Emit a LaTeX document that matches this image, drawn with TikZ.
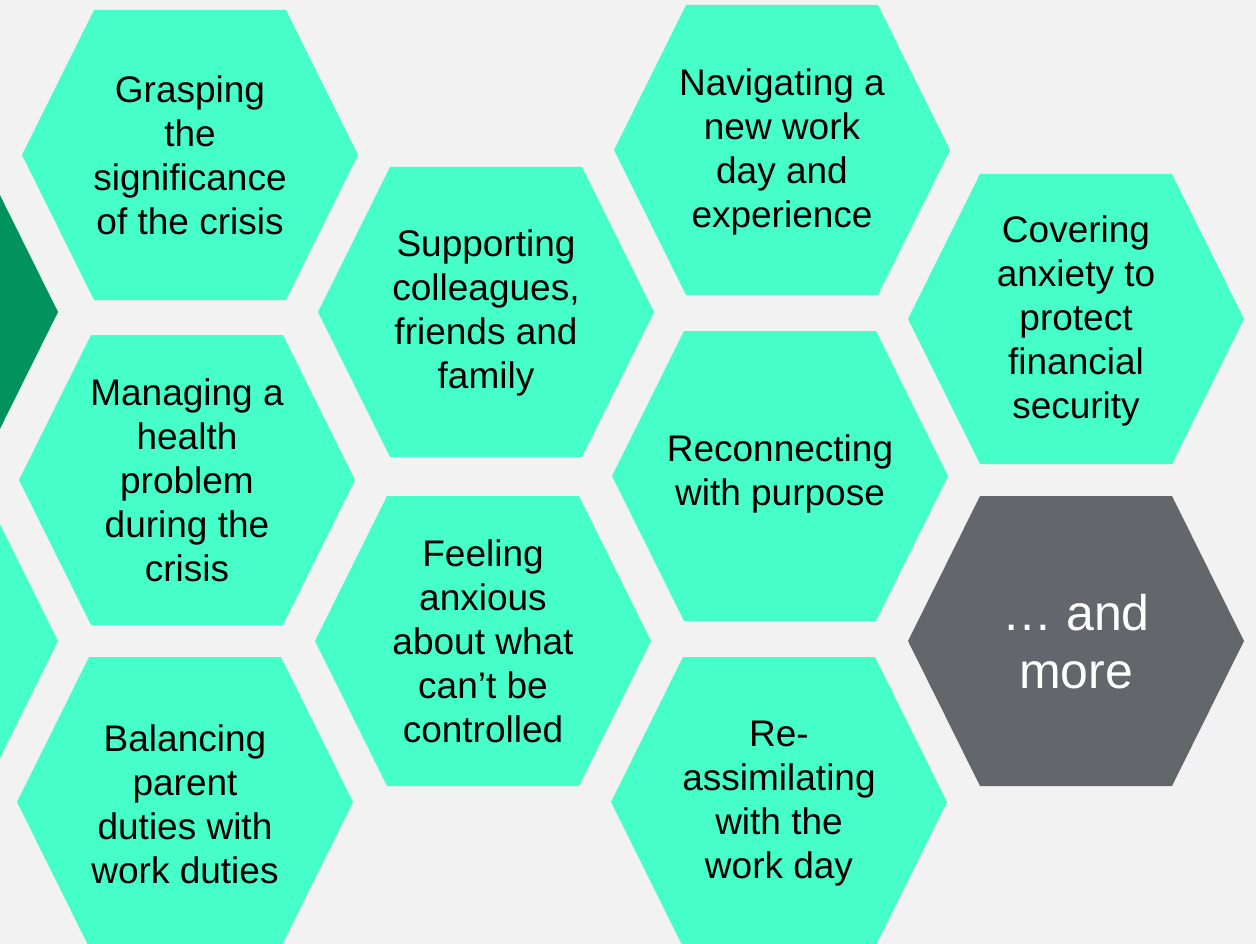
\documentclass[tikz,border=0pt]{standalone}
\usepackage{fontspec}
\setmainfont{Liberation Sans}
\usepackage{tikz}
\definecolor{mint}{HTML}{46FFC8}
\definecolor{pine}{HTML}{00925F}
\definecolor{slate}{HTML}{63666A}
\definecolor{paper}{HTML}{F2F2F2}
\tikzstyle{cell} = [align=center, text=black, inner sep=0pt, font=\fontsize{37}{44}\selectfont]
\tikzstyle{more} = [align=center, text=white, inner sep=0pt, font=\fontsize{50}{58}\selectfont]
% flat-topped hexagon around a centre point
\newcommand{\hexpath}[2]{\fill[#2] (#1) ++(-168,0) -- ++(72,-145) -- ++(192,0) -- ++(72,145) -- ++(-72,145) -- ++(-192,0) -- cycle;}

\begin{document}
\begin{tikzpicture}[x=1pt, y=-1pt]
            \useasboundingbox (0,0) rectangle (1256,944);
            \fill[paper] (0,0) rectangle (1256,944);
            \clip (0,0) rectangle (1256,944);

            % honeycomb
            \hexpath{-110,312}{pine}
            \hexpath{-110,641}{mint}
            \hexpath{190,155}{mint}
            \hexpath{187,480}{mint}
            \hexpath{185,802}{mint}
            \hexpath{486,312}{mint}
            \hexpath{483,641}{mint}
            \hexpath{782,150}{mint}
            \hexpath{780,476}{mint}
            \hexpath{779,802}{mint}
            \hexpath{1076,319}{mint}
            \hexpath{1076,641}{slate}

            \node (grasping) [cell] at (190,155) {Grasping\\the\\significance\\of the crisis};
            \node (managing) [cell] at (187,480) {Managing a\\health\\problem\\during the\\crisis};
            \node (balancing) [cell] at (185,804) {Balancing\\parent\\duties with\\work duties};
            \node (supporting) [cell] at (486,313) {Supporting\\colleagues,\\friends and\\family};
            \node (feeling) [cell] at (483,641) {Feeling\\anxious\\about what\\can’t be\\controlled};
            \node (navigating) [cell] at (782,152) {Navigating a\\new work\\day and\\experience};
            \node (reconnecting) [cell] at (780,474) {Reconnecting\\with purpose};
            \node (re-assimilating) [cell] at (779,804) {Re-\\assimilating\\with the\\work day};
            \node (covering) [cell] at (1076,321) {Covering\\anxiety to\\protect\\financial\\security};
            \node (and-more) [more] at (1076,642) {… and\\more};
        \end{tikzpicture}
\end{document}
